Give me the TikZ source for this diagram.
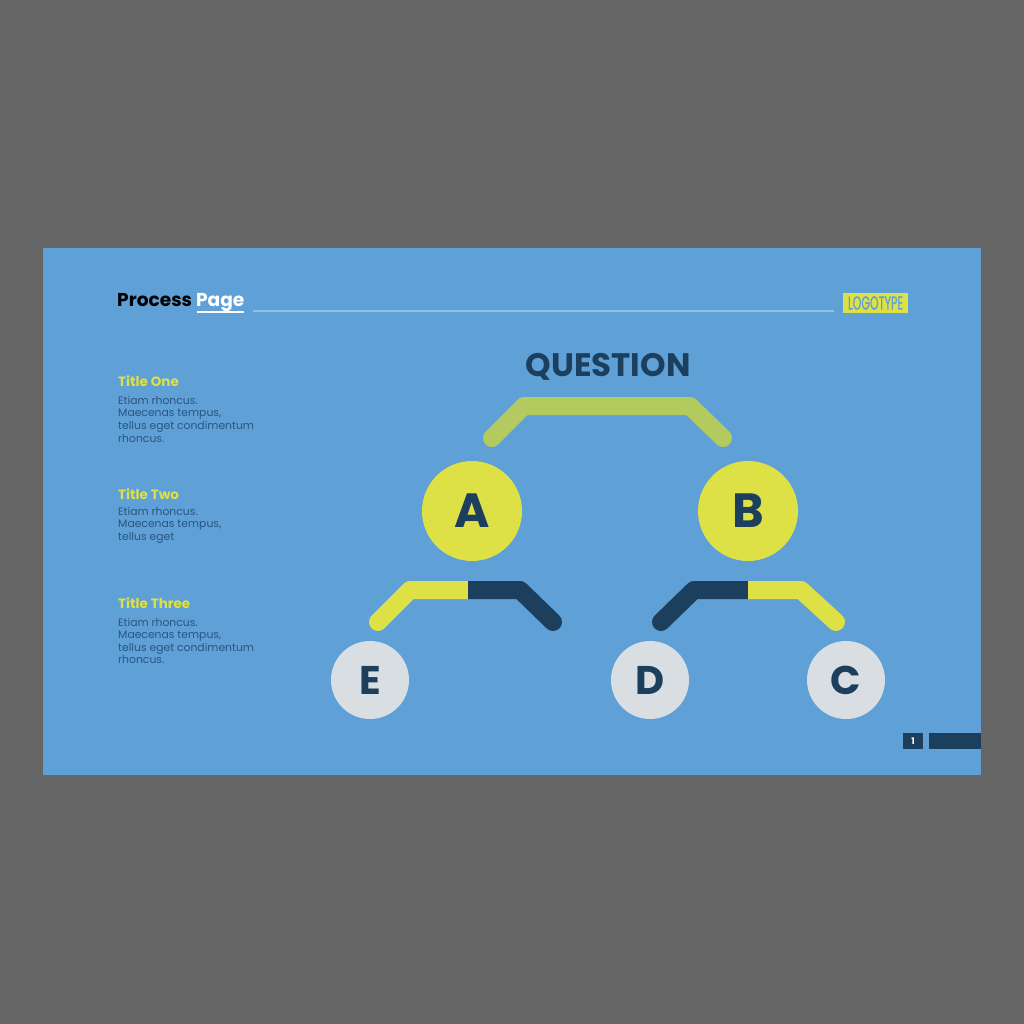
\documentclass[tikz,border=0pt]{standalone}
\usepackage{fontspec}
\setmainfont{Poppins}
\newfontfamily\condf[FakeStretch=0.58,FakeBold=0.6]{Poppins}
\definecolor{bg}{HTML}{666666}
\definecolor{slide}{HTML}{5FA0D6}
\definecolor{navy}{HTML}{1D3F5E}
\definecolor{yel}{HTML}{DDE146}
\definecolor{grn}{HTML}{B3CB5E}
\definecolor{lgray}{HTML}{D9DEE3}
\definecolor{lline}{HTML}{8EC1EC}
\definecolor{bodyc}{HTML}{2A5580}
\begin{document}
\begin{tikzpicture}[x=1pt,y=-1pt,
  bodytxt/.style={anchor=base west, inner sep=0, text=bodyc, font=\fontsize{10.8}{12}\selectfont},
  ttl/.style={anchor=base west, inner sep=0, text=yel, font=\bfseries\fontsize{13.5}{14}\selectfont},
  bigcirc/.style={circle, fill=yel, minimum size=100pt, inner sep=0, text=navy, font=\bfseries\fontsize{48}{48}\selectfont},
  smallcirc/.style={circle, fill=lgray, minimum size=78pt, inner sep=0, text=navy, font=\bfseries\fontsize{40}{40}\selectfont},
  conn/.style={line width=18pt, line cap=round, line join=round},
  splitpiece/.style={line width=18pt, line cap=butt}]
\useasboundingbox (0,0) rectangle (1024,1024);
\fill[bg] (0,0) rectangle (1024,1024);
\fill[slide] (43,248) rectangle (981,775);

% header
\node (pp) [anchor=base west, inner sep=0, font=\bfseries\fontsize{18.6}{18}\selectfont] at (117,306.5) {Process \textcolor{white}{Page}};
\draw[white, line width=2pt] (197,311.5) -- (244,311.5);
\draw[lline, line width=2.5pt] (253,311) -- (834,311);
\node (logo) [fill=yel, minimum width=65pt, minimum height=20pt, inner sep=0, text=slide, font=\condf\fontsize{19}{19}\selectfont] at (875.5,303) {LOGOTYPE};

% left texts
\node (t1) [ttl] at (118,386) {Title One};
\node (t1a) [bodytxt] at (118,404.3) {Etiam rhoncus.};
\node (t1b) [bodytxt] at (118,416.9) {Maecenas tempus,};
\node (t1c) [bodytxt] at (118,429.5) {tellus eget condimentum};
\node (t1d) [bodytxt] at (118,442.1) {rhoncus.};

\node (t2) [ttl] at (118,499.3) {Title Two};
\node (t2a) [bodytxt] at (118,515) {Etiam rhoncus.};
\node (t2b) [bodytxt] at (118,527.6) {Maecenas tempus,};
\node (t2c) [bodytxt] at (118,540.2) {tellus eget};

\node (t3) [ttl] at (118,608.7) {Title Three};
\node (t3a) [bodytxt] at (118,626) {Etiam rhoncus.};
\node (t3b) [bodytxt] at (118,638.6) {Maecenas tempus,};
\node (t3c) [bodytxt] at (118,651.2) {tellus eget condimentum};
\node (t3d) [bodytxt] at (118,663.8) {rhoncus.};

% tree
\node (q) [text=navy, font=\bfseries\fontsize{32.5}{32}\selectfont] at (608,367) {QUESTION};

\coordinate (q1) at (492,438);
\coordinate (q2) at (524,406);
\coordinate (q3) at (690,406);
\coordinate (q4) at (723,438);
\draw[conn, grn] (q1) -- (q2) -- (q3) -- (q4);

\node (A) [bigcirc] at (472,511) {A};
\node (B) [bigcirc] at (748,511) {B};

% left lower connector
\coordinate (l1) at (378,622);
\coordinate (l2) at (410,590);
\coordinate (ls) at (468,590);
\coordinate (l3) at (520,590);
\coordinate (l4) at (553,622);
\draw[conn, yel] (l1) -- (l2) -- (ls);
\draw[conn, navy] (ls) -- (l3) -- (l4);
\draw[splitpiece, yel] ([xshift=-10pt]ls) -- (ls);
\draw[splitpiece, navy] (ls) -- ([xshift=10pt]ls);

% right lower connector
\coordinate (r1) at (661,622);
\coordinate (r2) at (694,590);
\coordinate (rs) at (748,590);
\coordinate (r3) at (801,590);
\coordinate (r4) at (836,622);
\draw[conn, navy] (r1) -- (r2) -- (rs);
\draw[conn, yel] (rs) -- (r3) -- (r4);
\draw[splitpiece, navy] ([xshift=-10pt]rs) -- (rs);
\draw[splitpiece, yel] (rs) -- ([xshift=10pt]rs);

\node (E) [smallcirc] at (370,680) {E};
\node (D) [smallcirc] at (650,680) {D};
\node (C) [smallcirc] at (846,680) {C};

% page number
\node (pn) [fill=navy, minimum width=20pt, minimum height=16pt, inner sep=0, text=white, font=\bfseries\fontsize{9}{9}\selectfont] at (913,741) {1};
\fill[navy] (929,733) rectangle (981,749);
\end{tikzpicture}
\end{document}
